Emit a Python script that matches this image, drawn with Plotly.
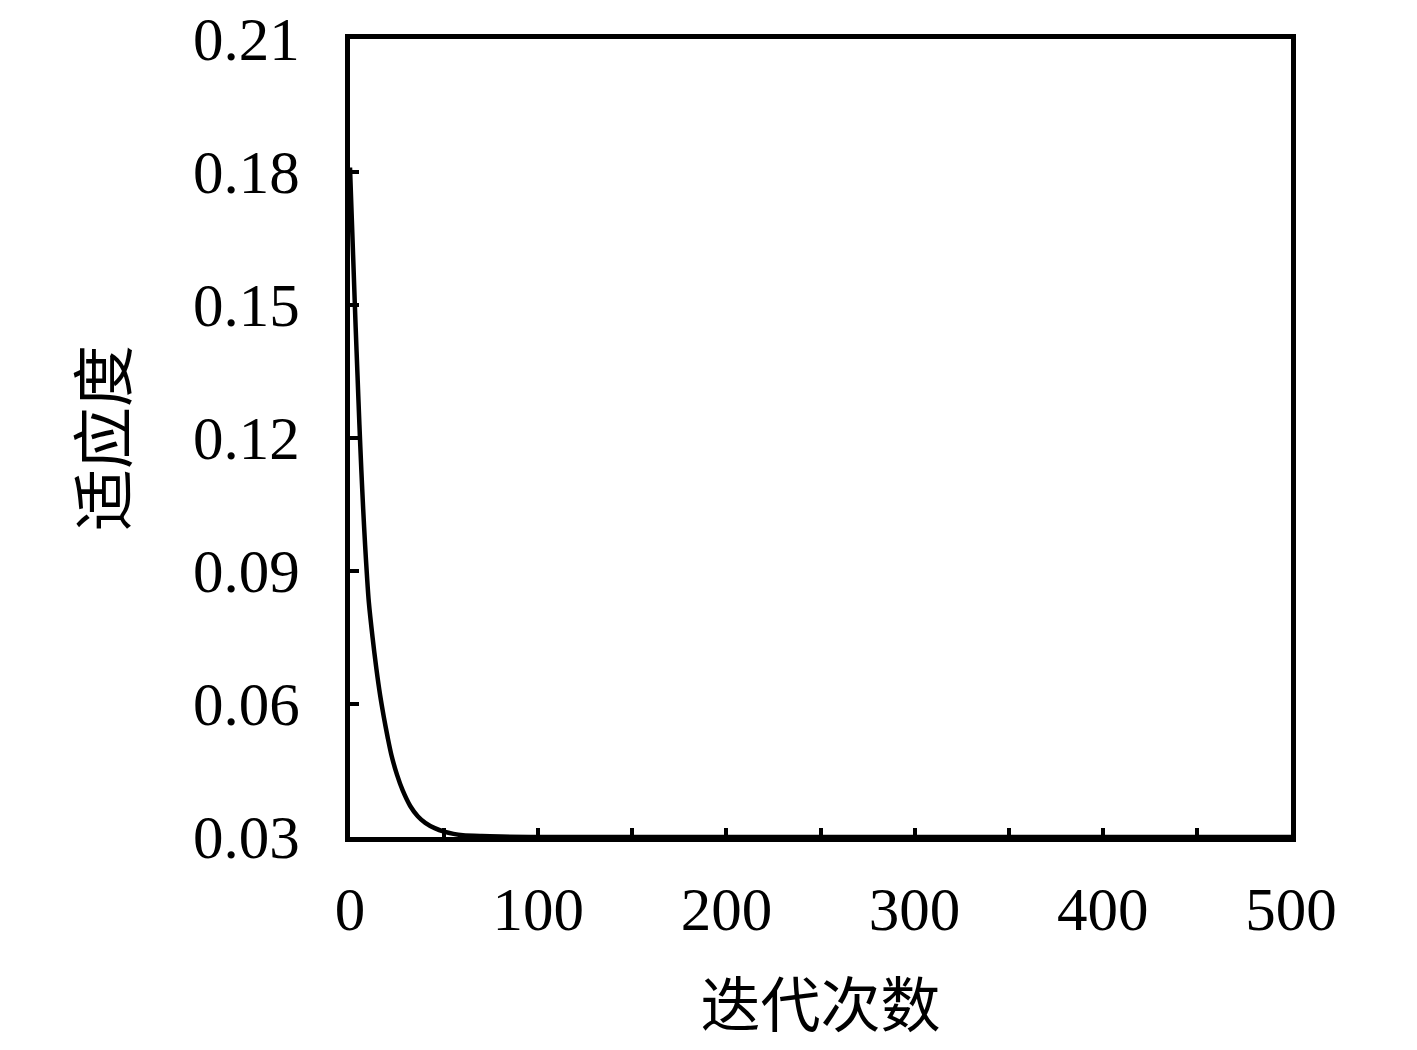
#!/usr/bin/env python
"""
Fitness convergence curve: 适应度 vs 迭代次数
"""

import plotly.graph_objects as go

# values
iterations = [0, 1, 2, 3, 4, 5, 6, 7, 8, 9, 10, 12, 14, 16, 18, 20, 22, 25,
              28, 32, 36, 40, 45, 50, 55, 60, 70, 80, 100, 200, 300, 400, 500]
fitness = [0.181, 0.169, 0.157, 0.145, 0.134, 0.123, 0.113, 0.104, 0.096, 0.089,
           0.083, 0.075, 0.068, 0.062, 0.057, 0.0525, 0.0485, 0.0440,
           0.0405, 0.0370, 0.0347, 0.0332, 0.0320, 0.0312, 0.0307, 0.0304,
           0.0302, 0.0301, 0.0300, 0.0300, 0.0300, 0.0300, 0.0300]

x_ticks = [0, 100, 200, 300, 400, 500]
y_ticks = [0.03, 0.06, 0.09, 0.12, 0.15, 0.18, 0.21]
y_labels = ["0.03", "0.06", "0.09", "0.12", "0.15", "0.18", "0.21"]

x_title = "迭代次数"
y_title = "适应度"

SERIF = "Liberation Serif, DejaVu Serif, serif"
CJK = "Noto Sans CJK SC"

fig = go.Figure()
fig.add_trace(go.Scatter(
    x=iterations, y=fitness, mode="lines",
    line=dict(color="black", width=4.5, shape="spline", smoothing=0.8),
    showlegend=False,
))

fig.update_xaxes(
    range=[0, 500], tickvals=x_ticks, ticktext=[str(v) for v in x_ticks],
    ticks="inside", ticklen=9, tickwidth=3.5, tickcolor="black",
    minor=dict(dtick=50, tick0=0, ticks="inside", ticklen=9, tickwidth=3.5, tickcolor="black"),
    showline=True, linecolor="black", linewidth=5, mirror=True,
    showgrid=False, zeroline=False, automargin=False,
    tickfont=dict(family=SERIF, size=61, color="black"),
    ticklabelstandoff=15, ticklabeloverflow="allow",
    title=dict(text=x_title, font=dict(family=CJK, size=60, color="black"), standoff=44),
)
fig.update_yaxes(
    range=[0.03, 0.21], tickvals=y_ticks, ticktext=y_labels,
    ticks="inside", ticklen=9, tickwidth=3.5, tickcolor="black",
    showline=True, linecolor="black", linewidth=5, mirror=True,
    showgrid=False, zeroline=False, automargin=False,
    tickfont=dict(family=SERIF, size=61, color="black"),
    ticklabelstandoff=33, ticklabeloverflow="allow",
    title=dict(text=y_title, font=dict(family=CJK, size=62, color="black"), standoff=47),
)
fig.update_layout(
    width=1417, height=1050,
    margin=dict(l=342, r=134, t=31, b=221),
    plot_bgcolor="white", paper_bgcolor="white",
)

fig.write_html("out.html")
